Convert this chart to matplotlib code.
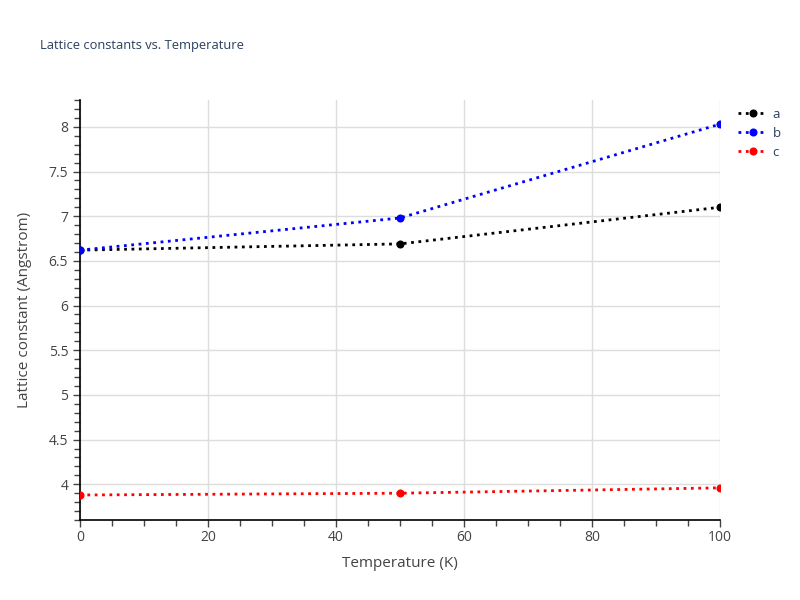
import matplotlib
matplotlib.use("Agg")
import matplotlib.pyplot as plt
from matplotlib.ticker import MultipleLocator

plt.rcParams['font.family'] = ['Open Sans', 'DejaVu Sans']

temperature = [0, 50, 100]
lat_a = [6.62, 6.69, 7.10]
lat_b = [6.62, 6.98, 8.03]
lat_c = [3.88, 3.90, 3.96]
series = [('a', lat_a, 'black'), ('b', lat_b, 'blue'), ('c', lat_c, 'red')]

txt = '#2a3f5f'
tick_col = '#444444'

fig = plt.figure(figsize=(8, 6), dpi=100)
ax = fig.add_axes([0.1, 0.1333, 0.8, 0.7])

for name, vals, col in series:
    ax.plot(temperature, vals, linestyle=':', color=col, linewidth=2,
            marker='o', markersize=4.8, label=name, zorder=3)

ax.set_xlim(0, 100)
ax.set_ylim(3.6, 8.3)
ax.xaxis.set_major_locator(MultipleLocator(20))
ax.xaxis.set_minor_locator(MultipleLocator(5))
ax.yaxis.set_major_locator(MultipleLocator(0.5))
ax.yaxis.set_minor_locator(MultipleLocator(0.1))
ax.yaxis.set_major_formatter(matplotlib.ticker.FuncFormatter(lambda v, p: f'{v:g}'))

ax.grid(True, which='major', color='#dddddd', linewidth=1)
ax.set_axisbelow(True)
for s in ['top', 'right']:
    ax.spines[s].set_visible(False)
for s in ['left', 'bottom']:
    ax.spines[s].set_color('black')
    ax.spines[s].set_linewidth(1.2)

ax.tick_params(which='both', direction='out', colors='#444444', labelcolor=tick_col,
               labelsize=10, length=5, width=1)
ax.tick_params(which='minor', length=4)
ax.tick_params(axis='x', pad=2)

ax.set_xlabel('Temperature (K)', fontsize=11, color=tick_col, labelpad=8)
ax.set_ylabel('Lattice constant (Angstrom)', fontsize=11, color=tick_col, labelpad=12)
fig.text(0.05, 0.925, 'Lattice constants vs. Temperature', fontsize=9.3, color=txt, va='center')

leg = ax.legend(loc='upper left', bbox_to_anchor=(1.01, 1.01), frameon=False,
                fontsize=9.5, handlelength=2.2, labelspacing=0.45, handletextpad=0.4)
for t in leg.get_texts():
    t.set_color(txt)

fig.savefig('out.png', dpi=100)
